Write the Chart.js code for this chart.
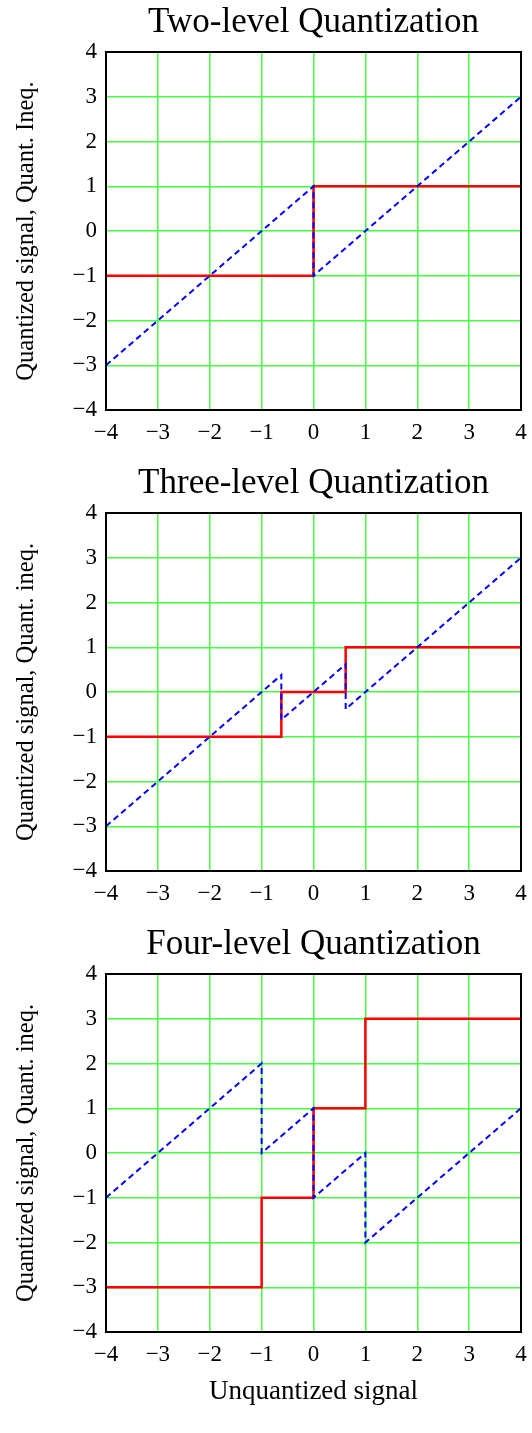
<!DOCTYPE html>
<html>
<head>
<meta charset="utf-8">
<script src="https://cdn.jsdelivr.net/npm/chart.js@4.4.0/dist/chart.umd.min.js"></script>
<style>
  html, body { margin: 0; padding: 0; background: #fff; }
  body { width: 532px; height: 1433px; position: relative; overflow: hidden; }
  .box { position: absolute; left: 0; width: 532px; }
  .box canvas { display: block; }
</style>
</head>
<body>
<div class="box" style="top:0"><canvas id="c1" width="532" height="460"></canvas></div>
<div class="box" style="top:461px"><canvas id="c2" width="532" height="460"></canvas></div>
<div class="box" style="top:922px"><canvas id="c3" width="532" height="511"></canvas></div>
<script>
// ── data ──
var axisMin = -4, axisMax = 4, axisStep = 1;

var twoX   = [-4, 0, 0, 4];
var twoQ   = [-1, -1, 1, 1];
var twoErr = [-3, 1, -1, 3];

var threeX   = [-4, -0.62, -0.62, 0.62, 0.62, 4];
var threeQ   = [-1, -1, 0, 0, 1, 1];
var threeErr = [-3, 0.38, -0.62, 0.62, -0.38, 3];

var fourX   = [-4, -1, -1, 0, 0, 1, 1, 4];
var fourQ   = [-3, -3, -1, -1, 1, 1, 3, 3];
var fourErr = [-1, 2, 0, 1, -1, 0, -2, 1];

var titles  = ['Two-level Quantization', 'Three-level Quantization', 'Four-level Quantization'];
var yTitles = ['Quantized signal, Quant. Ineq.', 'Quantized signal, Quant. ineq.', 'Quantized signal, Quant. ineq.'];
var xTitle  = 'Unquantized signal';

var serif = '"Liberation Serif", "Times New Roman", serif';
var gridGreen = '#44ff44';

function pts(xs, ys) {
  return xs.map(function (x, i) { return { x: x, y: ys[i] }; });
}

function fmtTick(v) {
  return v < 0 ? '\u2212' + Math.abs(v) : String(v);
}

// black frame round the plot area
var framePlugin = {
  id: 'frame',
  afterDatasetsDraw: function (chart) {
    var a = chart.chartArea, ctx = chart.ctx;
    ctx.save();
    ctx.strokeStyle = '#000';
    ctx.lineWidth = 2;
    ctx.strokeRect(a.left, a.top, a.right - a.left, a.bottom - a.top);
    ctx.restore();
  }
};

function createQuantChart(canvasId, title, yTitle, xs, q, err, showXTitle) {
  var canvas = document.getElementById(canvasId);
  var bottomH = showXTitle ? 101 : 50;
  return new Chart(canvas, {
    type: 'line',
    data: {
      datasets: [
        {
          label: 'Quant. ineq.', data: pts(xs, err),
          borderColor: '#0000ff', borderWidth: 2, borderDash: [6, 4],
          pointRadius: 0, tension: 0, fill: false,
        },
        {
          label: 'Quantized signal', data: pts(xs, q),
          borderColor: '#ff0000', borderWidth: 2.5,
          pointRadius: 0, tension: 0, fill: false,
        },
      ],
    },
    options: {
      responsive: false, animation: false,
      layout: { padding: { left: 0, right: 11, top: 0, bottom: 0 } },
      plugins: {
        legend: { display: false },
        tooltip: { enabled: false },
        title: {
          display: true, text: title, color: '#000', fullSize: false,
          font: { family: serif, size: 35, weight: 'normal' },
          padding: { top: 2, bottom: 8 },
        },
      },
      scales: {
        x: {
          type: 'linear', min: axisMin, max: axisMax,
          grid: { color: gridGreen, lineWidth: 1.5, drawTicks: false },
          border: { display: false },
          ticks: {
            stepSize: axisStep, autoSkip: false, maxRotation: 0, padding: 9,
            color: '#000', font: { family: serif, size: 23 }, callback: fmtTick,
          },
          title: {
            display: showXTitle, text: xTitle, color: '#000',
            font: { family: serif, size: 27 }, padding: { top: 0, bottom: 25 },
          },
          afterFit: function (s) {
            s.height = bottomH;
            s.paddingLeft = 0;
            s.paddingRight = 0;
          },
        },
        y: {
          type: 'linear', min: axisMin, max: axisMax,
          grid: { color: gridGreen, lineWidth: 1.5, drawTicks: false },
          border: { display: false },
          ticks: {
            stepSize: axisStep, autoSkip: false, padding: 9,
            color: '#000', font: { family: serif, size: 23 }, callback: fmtTick,
          },
          title: {
            display: true, text: yTitle, color: '#000',
            font: { family: serif, size: 24.5 }, padding: { top: 12, bottom: 0 },
          },
          afterFit: function (s) { s.width = 106; },
        },
      },
    },
    plugins: [framePlugin],
  });
}

createQuantChart('c1', titles[0], yTitles[0], twoX, twoQ, twoErr, false);
createQuantChart('c2', titles[1], yTitles[1], threeX, threeQ, threeErr, false);
createQuantChart('c3', titles[2], yTitles[2], fourX, fourQ, fourErr, true);
</script>
</body>
</html>
